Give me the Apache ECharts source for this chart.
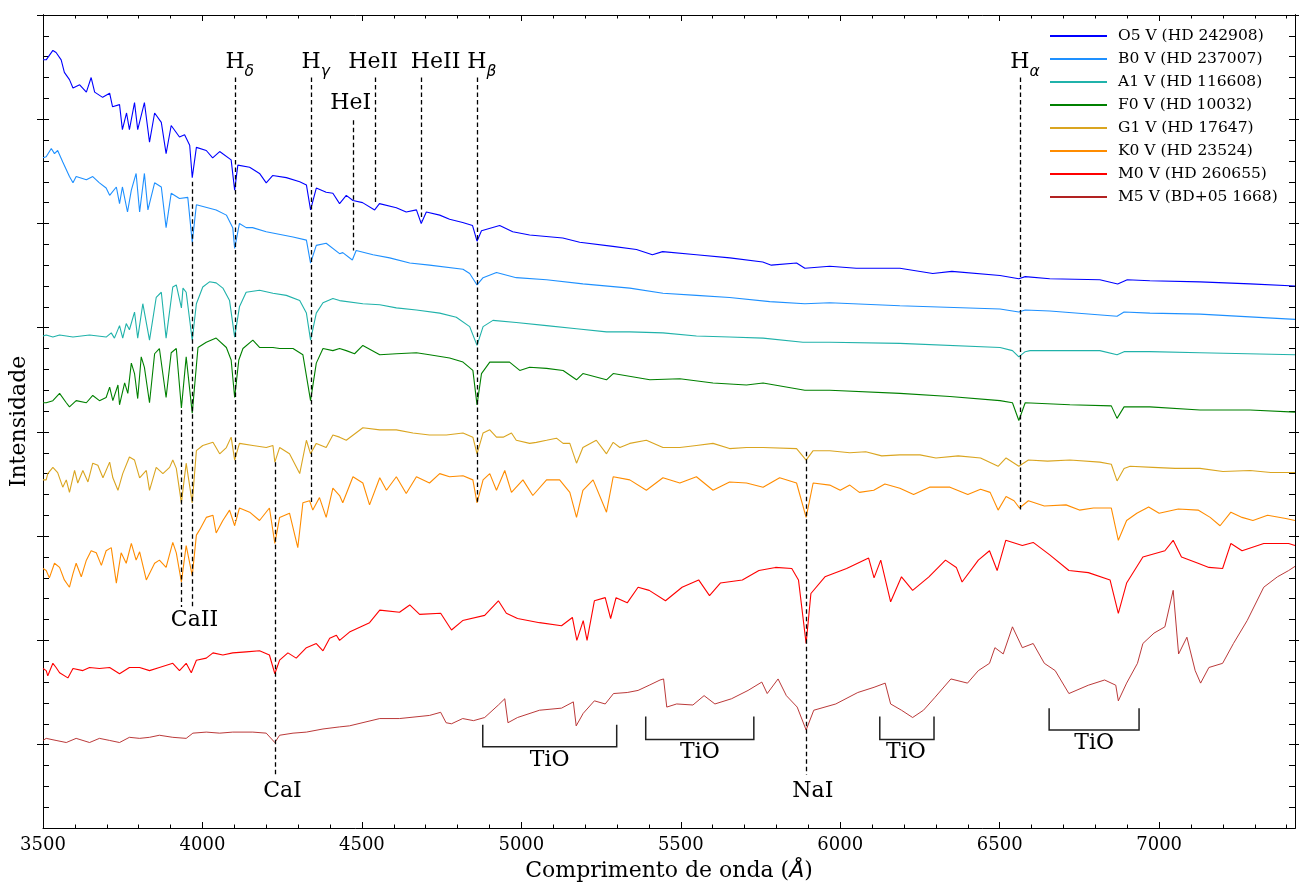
<!DOCTYPE html>
<html><head><meta charset="utf-8">
<script src="https://cdn.jsdelivr.net/npm/echarts@6/dist/echarts.min.js"></script>
<style>html,body{margin:0;padding:0;background:#fff}#c{width:1299px;height:884px}</style>
</head><body><div id="c"></div>
<script>
const seriesNames = ['O5 V (HD 242908)','B0 V (HD 237007)','A1 V (HD 116608)','F0 V (HD 10032)','G1 V (HD 17647)','K0 V (HD 23524)','M0 V (HD 260655)','M5 V (BD+05 1668)'];
const seriesColors = ['#0000ff','#1e90ff','#20b2aa','#008000','#daa520','#ff8c00','#ff0000','#b22222'];

const o5 = [[3500,7.37],[3510,7.37],[3531,7.46],[3541,7.44],[3557,7.37],[3567,7.25],[3583,7.18],[3594,7.10],[3615,7.13],[3636,7.06],[3651,7.20],[3662,7.06],[3687,7.01],[3709,7.05],[3718,6.92],[3740,6.94],[3749,6.70],[3762,6.86],[3771,6.70],[3787,6.96],[3797,6.70],[3818,6.96],[3834,6.58],[3850,6.86],[3871,6.77],[3886,6.47],[3902,6.74],[3928,6.63],[3944,6.65],[3960,6.55],[3968,6.24],[3981,6.53],[4012,6.50],[4032,6.43],[4054,6.49],[4090,6.41],[4101,6.12],[4111,6.36],[4148,6.34],[4179,6.28],[4200,6.19],[4220,6.26],[4263,6.24],[4305,6.20],[4326,6.17],[4339,5.93],[4357,6.14],[4388,6.10],[4409,6.09],[4430,5.99],[4451,6.07],[4472,6.02],[4502,6.00],[4540,5.93],[4555,5.99],[4608,5.95],[4639,5.91],[4671,5.93],[4686,5.80],[4702,5.91],[4744,5.88],[4775,5.84],[4816,5.81],[4847,5.78],[4861,5.63],[4875,5.73],[4932,5.78],[4973,5.72],[5026,5.69],[5130,5.66],[5183,5.62],[5287,5.58],[5361,5.55],[5411,5.50],[5443,5.53],[5549,5.50],[5654,5.47],[5757,5.43],[5784,5.40],[5863,5.42],[5889,5.37],[5967,5.39],[6050,5.37],[6187,5.37],[6290,5.32],[6350,5.34],[6501,5.30],[6560,5.27],[6580,5.29],[6657,5.27],[6814,5.26],[6870,5.22],[6900,5.26],[6971,5.25],[7128,5.24],[7285,5.22],[7426,5.20]];

const b0 = [[3500,6.43],[3510,6.44],[3526,6.52],[3536,6.47],[3546,6.50],[3562,6.39],[3583,6.25],[3594,6.19],[3604,6.25],[3636,6.22],[3656,6.25],[3677,6.19],[3698,6.14],[3709,6.07],[3730,6.15],[3740,5.99],[3749,6.15],[3765,5.91],[3777,6.12],[3792,6.28],[3803,5.91],[3818,6.28],[3829,5.93],[3850,6.19],[3871,6.15],[3886,5.76],[3902,6.09],[3928,6.04],[3954,6.05],[3968,5.62],[3981,5.98],[4043,5.93],[4075,5.88],[4095,5.76],[4101,5.56],[4116,5.80],[4137,5.76],[4157,5.76],[4200,5.72],[4284,5.67],[4326,5.64],[4339,5.42],[4357,5.59],[4388,5.61],[4430,5.51],[4440,5.52],[4470,5.45],[4482,5.54],[4535,5.50],[4587,5.47],[4650,5.42],[4712,5.40],[4817,5.36],[4838,5.32],[4861,5.21],[4880,5.28],[4922,5.33],[4984,5.28],[5079,5.26],[5193,5.22],[5340,5.18],[5444,5.13],[5549,5.11],[5653,5.09],[5779,5.05],[5889,5.03],[5967,5.04],[6187,5.01],[6501,4.98],[6560,4.95],[6580,4.97],[6657,4.96],[6868,4.91],[6890,4.95],[6971,4.94],[7128,4.93],[7426,4.88]];

const a1 = [[3500,4.72],[3510,4.73],[3531,4.71],[3552,4.73],[3594,4.71],[3646,4.73],[3698,4.71],[3714,4.75],[3724,4.70],[3740,4.82],[3750,4.70],[3761,4.84],[3771,4.78],[3787,4.95],[3797,4.70],[3813,5.03],[3834,4.68],[3855,5.09],[3871,5.14],[3886,4.70],[3907,5.19],[3918,5.21],[3934,4.99],[3939,5.18],[3949,5.14],[3968,4.68],[3981,5.03],[4001,5.19],[4022,5.24],[4043,5.23],[4064,5.18],[4085,5.06],[4101,4.71],[4116,5.00],[4137,5.14],[4179,5.16],[4221,5.13],[4263,5.11],[4305,5.06],[4326,4.94],[4339,4.68],[4357,4.94],[4378,5.04],[4409,5.08],[4430,5.06],[4503,5.03],[4556,5.02],[4608,4.99],[4671,4.97],[4744,4.94],[4796,4.90],[4838,4.81],[4861,4.63],[4880,4.81],[4911,4.87],[4984,4.85],[5079,4.82],[5173,4.79],[5267,4.76],[5340,4.76],[5444,4.75],[5549,4.72],[5653,4.71],[5758,4.70],[5883,4.66],[5967,4.66],[6187,4.65],[6501,4.61],[6540,4.58],[6560,4.52],[6580,4.57],[6595,4.58],[6814,4.58],[6868,4.54],[6890,4.57],[6971,4.57],[7128,4.56],[7426,4.54]];

const f0 = [[3500,4.08],[3510,4.08],[3531,4.10],[3552,4.17],[3573,4.08],[3583,4.04],[3604,4.10],[3636,4.08],[3656,4.15],[3677,4.10],[3698,4.13],[3709,4.23],[3719,4.10],[3735,4.25],[3740,4.06],[3756,4.27],[3766,4.17],[3777,4.46],[3787,4.36],[3797,4.12],[3808,4.52],[3818,4.42],[3834,4.08],[3850,4.55],[3865,4.60],[3886,4.13],[3902,4.56],[3918,4.60],[3934,4.03],[3949,4.52],[3968,3.98],[3986,4.61],[4012,4.66],[4043,4.70],[4075,4.61],[4090,4.49],[4101,4.13],[4114,4.49],[4127,4.60],[4158,4.68],[4179,4.61],[4221,4.61],[4242,4.60],[4284,4.60],[4315,4.54],[4339,4.10],[4357,4.46],[4378,4.60],[4409,4.58],[4430,4.60],[4451,4.58],[4477,4.55],[4503,4.63],[4556,4.54],[4608,4.55],[4671,4.56],[4712,4.54],[4775,4.51],[4817,4.47],[4848,4.39],[4861,4.06],[4875,4.36],[4901,4.47],[4963,4.47],[4995,4.39],[5026,4.42],[5079,4.41],[5131,4.39],[5173,4.30],[5193,4.36],[5267,4.30],[5288,4.36],[5403,4.30],[5497,4.31],[5601,4.27],[5706,4.25],[5758,4.27],[5889,4.20],[5967,4.20],[6187,4.17],[6344,4.14],[6501,4.10],[6540,4.08],[6560,3.91],[6580,4.08],[6720,4.06],[6850,4.05],[6868,3.93],[6890,4.04],[6971,4.04],[7128,4.01],[7285,4.01],[7426,3.99]];

const g1 = [[3500,3.34],[3510,3.34],[3515,3.40],[3531,3.46],[3546,3.41],[3562,3.27],[3573,3.34],[3583,3.22],[3599,3.43],[3609,3.31],[3625,3.43],[3641,3.32],[3656,3.50],[3672,3.48],[3688,3.36],[3709,3.51],[3719,3.36],[3735,3.24],[3750,3.40],[3771,3.56],[3787,3.53],[3803,3.36],[3824,3.43],[3834,3.24],[3855,3.46],[3876,3.40],[3897,3.46],[3907,3.53],[3918,3.45],[3934,3.12],[3949,3.50],[3968,3.12],[3981,3.62],[4001,3.67],[4033,3.70],[4054,3.59],[4075,3.65],[4090,3.75],[4101,3.53],[4116,3.69],[4158,3.67],[4200,3.65],[4221,3.67],[4227,3.51],[4242,3.65],[4273,3.59],[4305,3.40],[4326,3.72],[4339,3.59],[4357,3.69],[4388,3.65],[4409,3.77],[4430,3.75],[4451,3.72],[4503,3.84],[4556,3.82],[4608,3.82],[4660,3.79],[4712,3.77],[4765,3.77],[4817,3.79],[4848,3.75],[4861,3.59],[4880,3.79],[4901,3.82],[4922,3.75],[4943,3.75],[4969,3.79],[4984,3.72],[5026,3.69],[5047,3.70],[5079,3.72],[5110,3.74],[5131,3.69],[5152,3.69],[5173,3.50],[5193,3.65],[5235,3.72],[5267,3.59],[5288,3.70],[5309,3.65],[5340,3.69],[5392,3.72],[5444,3.65],[5497,3.65],[5549,3.67],[5601,3.69],[5653,3.64],[5706,3.65],[5758,3.65],[5863,3.64],[5893,3.53],[5915,3.62],[5967,3.62],[6030,3.60],[6080,3.61],[6130,3.57],[6187,3.58],[6250,3.58],[6300,3.55],[6370,3.57],[6440,3.55],[6495,3.47],[6520,3.55],[6560,3.47],[6590,3.53],[6650,3.52],[6720,3.53],[6814,3.51],[6850,3.49],[6868,3.33],[6890,3.45],[6909,3.47],[6980,3.46],[7050,3.45],[7128,3.45],[7200,3.42],[7285,3.43],[7350,3.41],[7426,3.41]];

const k0 = [[3500,2.49],[3510,2.47],[3520,2.40],[3536,2.54],[3552,2.50],[3567,2.38],[3583,2.31],[3594,2.44],[3604,2.54],[3620,2.41],[3636,2.57],[3651,2.66],[3667,2.64],[3683,2.52],[3698,2.66],[3714,2.69],[3730,2.35],[3745,2.64],[3761,2.54],[3777,2.73],[3792,2.57],[3803,2.65],[3824,2.38],[3850,2.54],[3865,2.57],[3886,2.50],[3907,2.74],[3918,2.64],[3934,2.36],[3949,2.71],[3968,2.42],[3981,2.81],[3991,2.86],[4012,2.98],[4033,3.00],[4043,2.83],[4064,2.95],[4085,3.05],[4101,2.90],[4116,3.07],[4148,3.03],[4179,2.95],[4210,3.07],[4227,2.73],[4242,2.98],[4273,3.02],[4299,2.69],[4315,3.12],[4336,3.14],[4346,3.05],[4367,3.17],[4388,2.98],[4409,3.26],[4430,3.19],[4440,3.12],[4472,3.37],[4503,3.31],[4524,3.10],[4556,3.36],[4577,3.24],[4608,3.37],[4639,3.21],[4671,3.37],[4712,3.31],[4744,3.40],[4775,3.37],[4817,3.38],[4848,3.34],[4861,3.12],[4880,3.34],[4901,3.40],[4922,3.24],[4948,3.43],[4969,3.22],[5005,3.34],[5036,3.19],[5079,3.34],[5120,3.34],[5152,3.22],[5173,2.98],[5193,3.24],[5225,3.34],[5267,3.03],[5288,3.37],[5340,3.34],[5392,3.24],[5444,3.36],[5497,3.31],[5549,3.37],[5601,3.24],[5653,3.32],[5706,3.31],[5758,3.27],[5810,3.36],[5863,3.31],[5893,2.98],[5915,3.31],[5967,3.29],[6000,3.24],[6030,3.29],[6060,3.22],[6105,3.24],[6140,3.30],[6187,3.26],[6230,3.20],[6280,3.27],[6344,3.27],[6400,3.20],[6440,3.25],[6470,3.22],[6495,3.05],[6520,3.18],[6545,3.14],[6562,3.07],[6590,3.14],[6640,3.09],[6708,3.10],[6750,3.05],[6794,3.07],[6850,3.07],[6872,2.76],[6898,2.95],[6930,3.02],[6967,3.08],[7000,3.02],[7060,3.06],[7122,3.05],[7160,2.98],[7191,2.90],[7225,3.03],[7260,2.98],[7294,2.95],[7340,3.00],[7397,2.97],[7426,2.95]];

const m0 = [[3500,1.53],[3510,1.51],[3515,1.46],[3531,1.58],[3541,1.54],[3552,1.49],[3578,1.44],[3594,1.53],[3625,1.51],[3646,1.54],[3677,1.53],[3709,1.54],[3740,1.48],[3771,1.54],[3803,1.54],[3834,1.51],[3865,1.54],[3907,1.58],[3928,1.51],[3949,1.58],[3965,1.49],[3981,1.61],[4012,1.63],[4033,1.68],[4064,1.66],[4095,1.68],[4137,1.69],[4179,1.70],[4210,1.66],[4227,1.48],[4242,1.61],[4268,1.68],[4294,1.63],[4326,1.73],[4357,1.77],[4378,1.70],[4399,1.82],[4420,1.85],[4430,1.80],[4461,1.88],[4524,1.97],[4556,2.09],[4618,2.07],[4650,2.14],[4681,2.05],[4747,2.06],[4781,1.90],[4816,1.99],[4885,2.04],[4928,2.18],[4953,2.06],[4988,2.01],[5057,1.97],[5126,1.94],[5160,2.02],[5174,1.80],[5194,1.99],[5206,1.80],[5229,2.18],[5263,2.21],[5280,2.01],[5297,2.21],[5332,2.16],[5366,2.31],[5401,2.28],[5452,2.18],[5504,2.31],[5556,2.38],[5590,2.23],[5624,2.35],[5693,2.38],[5745,2.47],[5797,2.50],[5848,2.49],[5869,2.38],[5893,1.77],[5908,2.25],[5952,2.41],[6020,2.49],[6089,2.59],[6106,2.40],[6127,2.57],[6158,2.17],[6192,2.41],[6227,2.28],[6278,2.41],[6330,2.57],[6364,2.50],[6382,2.36],[6433,2.57],[6468,2.66],[6492,2.47],[6519,2.76],[6571,2.71],[6605,2.74],[6657,2.62],[6717,2.47],[6778,2.45],[6846,2.38],[6872,2.06],[6898,2.35],[6949,2.60],[7018,2.66],[7044,2.76],[7070,2.60],[7122,2.54],[7156,2.50],[7199,2.49],[7225,2.73],[7260,2.66],[7328,2.73],[7406,2.73],[7426,2.71]];

const m5 = [[3500,0.84],[3510,0.86],[3541,0.84],[3573,0.82],[3604,0.86],[3646,0.82],[3677,0.86],[3709,0.84],[3740,0.82],[3771,0.87],[3803,0.86],[3834,0.87],[3865,0.89],[3907,0.87],[3949,0.86],[3970,0.91],[4012,0.92],[4054,0.91],[4095,0.92],[4158,0.92],[4200,0.91],[4227,0.82],[4242,0.89],[4284,0.91],[4326,0.92],[4378,0.95],[4430,0.97],[4461,0.98],[4556,1.05],[4618,1.05],[4712,1.08],[4747,1.11],[4764,1.01],[4781,1.00],[4816,1.05],[4850,1.03],[4885,1.06],[4928,1.18],[4948,1.24],[4958,1.01],[4988,1.06],[5057,1.13],[5126,1.15],[5163,1.21],[5172,0.98],[5194,1.10],[5229,1.22],[5263,1.19],[5289,1.29],[5332,1.30],[5366,1.32],[5401,1.37],[5435,1.42],[5446,1.43],[5456,1.16],[5487,1.19],[5538,1.18],[5573,1.27],[5607,1.19],[5659,1.24],[5711,1.32],[5754,1.40],[5771,1.29],[5805,1.43],[5831,1.27],[5865,1.16],[5893,0.94],[5917,1.13],[5986,1.19],[6055,1.30],[6106,1.35],[6141,1.39],[6158,1.19],[6192,1.13],[6227,1.06],[6261,1.13],[6296,1.25],[6347,1.43],[6399,1.39],[6433,1.51],[6468,1.58],[6485,1.73],[6511,1.67],[6540,1.93],[6571,1.73],[6605,1.77],[6640,1.58],[6674,1.51],[6717,1.29],[6778,1.37],[6829,1.42],[6864,1.37],[6872,1.22],[6898,1.39],[6932,1.58],[6949,1.77],[6984,1.87],[7018,1.93],[7044,2.28],[7061,1.67],[7087,1.83],[7113,1.51],[7130,1.39],[7156,1.54],[7199,1.58],[7233,1.77],[7276,1.99],[7328,2.31],[7371,2.41],[7406,2.47],[7426,2.51]];

const spectra = [o5, b0, a1, f0, g1, k0, m0, m5];

// x axis ticks
const xMin = 3500, xMax = 7426, xStep = 500;
// y axis tick values (intensity units, no labels)
const yMajorTicks = [0.8, 1.8, 2.8, 3.8, 4.8, 5.8, 6.8, 7.8];
const yMinorTicks = [0.2, 0.4, 0.6, 1.0, 1.2, 1.4, 1.6, 2.0, 2.2, 2.4, 2.6, 3.0, 3.2, 3.4, 3.6, 4.0, 4.2, 4.4, 4.6, 5.0, 5.2, 5.4, 5.6, 6.0, 6.2, 6.4, 6.6, 7.0, 7.2, 7.4, 7.6];

// annotation lines: wavelength, top, bottom
const markWave   = [4101, 4340, 4471, 4541, 4686, 4861, 6563, 3934, 3968, 4227, 5893];
const markTop    = [7.20, 7.20, 6.79, 7.20, 7.20, 7.20, 7.20, 4.01, 6.20, 3.51, 3.61];
const markBottom = [2.95, 3.10, 5.54, 5.98, 5.83, 3.13, 3.05, 2.12, 2.12, 0.51, 0.51];
// annotation labels
const labelText  = ['H{s|δ}', 'H{s|γ}', 'HeI', 'HeII', 'HeII', 'H{s|β}', 'H{s|α}', 'CaII', 'CaI', 'NaI', 'TiO', 'TiO', 'TiO', 'TiO'];
const labelWave  = [4117, 4355, 4465, 4535, 4731, 4876, 6579, 3975, 4251, 5914, 5089, 5560, 6206, 6796];
const labelLevel = [7.35, 7.35, 6.95, 7.35, 7.35, 7.35, 7.35, 1.99, 0.35, 0.35, 0.65, 0.73, 0.73, 0.81];
// TiO bands: start, end, top, bottom
const bandStart = [4879, 5390, 6124, 6655];
const bandEnd   = [5299, 5729, 6294, 6937];
const bandTop   = [0.99, 1.07, 1.07, 1.15];
const bandBot   = [0.78, 0.85, 0.85, 0.94];

const SERIF = 'DejaVu Serif';
const chart = echarts.init(document.getElementById('c'), null, {renderer: 'canvas'});

const lineSeries = spectra.map((d, i) => ({
  name: seriesNames[i], type: 'line', data: d, xAxisIndex: 0, yAxisIndex: 0,
  showSymbol: false, symbol: 'none', silent: true,
  lineStyle: {color: seriesColors[i], width: i === 7 ? 0.9 : 1.1},
  itemStyle: {color: seriesColors[i]}, z: 3
}));

const markSeries = {
  type: 'custom', xAxisIndex: 0, yAxisIndex: 0, silent: true, z: 5, clip: false,
  data: markWave.map((w, i) => [w, markTop[i], markBottom[i]]),
  renderItem: (params, api) => {
    const p0 = api.coord([api.value(0), api.value(1)]);
    const p1 = api.coord([api.value(0), api.value(2)]);
    return {type: 'line', shape: {x1: Math.round(p0[0]) + 0.5, y1: p0[1], x2: Math.round(p1[0]) + 0.5, y2: p1[1]},
      style: {stroke: '#000', lineWidth: 1.3, lineDash: [4.5, 3]}};
  }
};

const bandSeries = {
  type: 'custom', xAxisIndex: 0, yAxisIndex: 0, silent: true, z: 5, clip: false,
  data: bandStart.map((s, i) => [s, bandEnd[i], bandTop[i], bandBot[i]]),
  renderItem: (params, api) => {
    const a = api.coord([api.value(0), api.value(2)]);
    const b = api.coord([api.value(0), api.value(3)]);
    const c = api.coord([api.value(1), api.value(3)]);
    const d = api.coord([api.value(1), api.value(2)]);
    return {type: 'polyline', shape: {points: [a, b, c, d]},
      style: {stroke: '#222', lineWidth: 1.5, fill: null}};
  }
};

const labelSeries = {
  type: 'custom', xAxisIndex: 0, yAxisIndex: 0, silent: true, z: 6, clip: false,
  data: labelWave.map((w, i) => [w, labelLevel[i], i]),
  renderItem: (params, api) => {
    const p = api.coord([api.value(0), api.value(1)]);
    const t = labelText[api.value(2)];
    return {type: 'text', x: p[0], y: p[1],
      style: {text: t, fontFamily: SERIF, fontSize: 22, fill: '#000', align: 'center', verticalAlign: 'middle',
        rich: {s: {fontFamily: 'DejaVu Sans', fontStyle: 'italic', fontSize: 15.5, padding: [13, 0, 0, 0], lineHeight: 15, verticalAlign: 'top'}}}};
  }
};

const tickCommon = {show: true, inside: true, lineStyle: {color: '#000', width: 1}};
const xBase = {type: 'value', min: xMin, max: xMax, interval: xStep,
  axisLine: {show: true, onZero: false, lineStyle: {color: '#000', width: 1}},
  splitLine: {show: false},
  minorTick: {show: true, splitNumber: 5, length: 3.5, lineStyle: {color: '#000', width: 1}}};

const yBase = (pos, values, len, inside, extra) => Object.assign({
  type: 'value', min: 0, max: 7.8, position: pos,
  axisLine: {show: true, onZero: false, lineStyle: {color: '#000', width: 1}},
  axisTick: {show: true, inside: inside, length: len, customValues: values, lineStyle: {color: '#000', width: 1}},
  axisLabel: {show: false}, splitLine: {show: false}
}, extra || {});

const option = {
  animation: false,
  backgroundColor: '#fff',
  grid: {left: 43, right: 4, top: 15, bottom: 56, containLabel: false, outerBoundsMode: 'none'},
  legend: {
    data: seriesNames, orient: 'vertical', left: 1045, top: 23, icon: 'rect', padding: 5,
    itemWidth: 57, itemHeight: 2, itemGap: 7,
    textStyle: {fontFamily: SERIF, fontSize: 15.5, color: '#000', lineHeight: 16, padding: [0, 0, 0, 6]},
    selectedMode: false
  },
  xAxis: [
    Object.assign({}, xBase, {position: 'bottom',
      axisTick: Object.assign({}, tickCommon, {length: 6}),
      axisLabel: {show: true, fontFamily: SERIF, fontSize: 18, color: '#000', margin: 8,
        showMaxLabel: false, formatter: v => String(v)},
      name: 'Comprimento de onda ({i|Å})', nameLocation: 'middle', nameGap: 32,
      nameTextStyle: {fontFamily: SERIF, fontSize: 22, color: '#000',
        rich: {i: {fontFamily: 'DejaVu Sans', fontStyle: 'italic', fontSize: 22}}}}),
    Object.assign({}, xBase, {position: 'top',
      axisTick: Object.assign({}, tickCommon, {length: 6}), axisLabel: {show: false}})
  ],
  yAxis: [
    yBase('left', yMajorTicks, 6, true, {name: 'Intensidade', nameLocation: 'middle', nameGap: 13,
      nameTextStyle: {fontFamily: SERIF, fontSize: 22, color: '#000'}}),
    yBase('left', yMajorTicks, 6, false),
    yBase('left', yMinorTicks, 6, true),
    yBase('right', yMajorTicks, 6, true),
    yBase('right', yMajorTicks, 6, false),
    yBase('right', yMinorTicks, 6, true)
  ],
  series: lineSeries.concat([markSeries, bandSeries, labelSeries])
};
chart.setOption(option);
</script>
</body></html>
